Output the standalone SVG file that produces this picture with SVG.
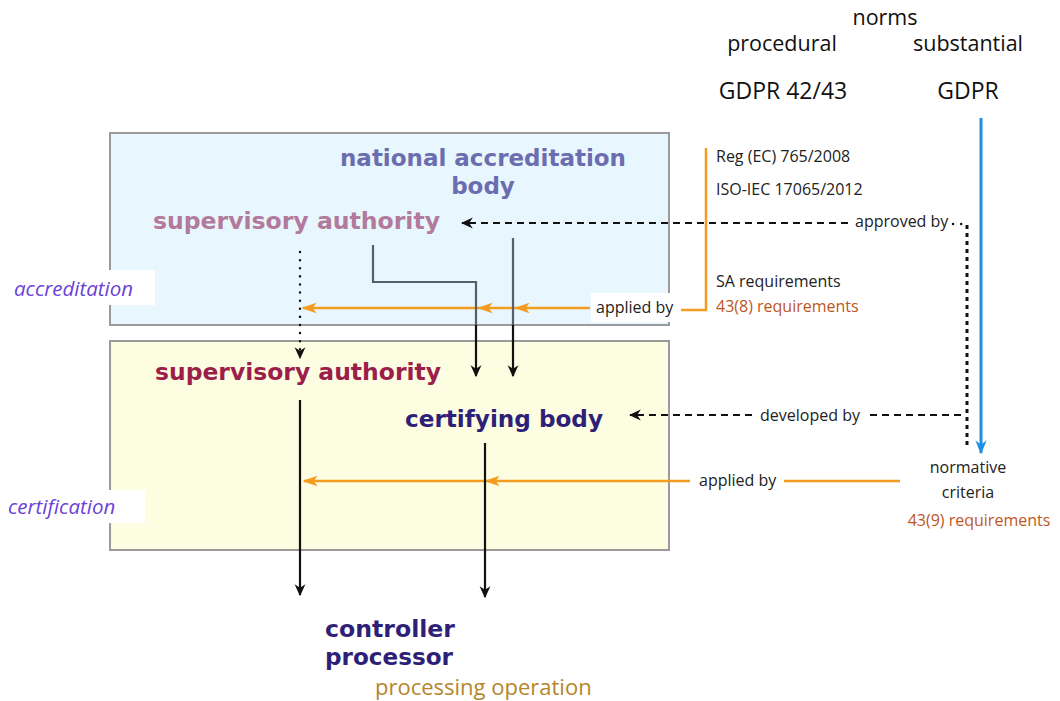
<svg xmlns="http://www.w3.org/2000/svg" width="1060" height="701" viewBox="0 0 1060 701">
<defs>
<style>
text{font-family:"Open Sans","Lato","DejaVu Sans",sans-serif;}
.b{font-family:"DejaVu Sans","Open Sans",sans-serif;font-weight:bold;font-size:23px;}
.sm{font-size:16px;fill:#222;}
.md{font-size:21.5px;fill:#111;}
.lg{font-size:23px;fill:#111;}
.req{font-size:16px;fill:#c0561e;}
.it{font-style:italic;font-size:20.5px;fill:#6a42d6;}
.blk{stroke:#111;stroke-width:2.2;fill:none;}
.gry{stroke:#56606a;stroke-width:2.2;fill:none;}
.org{stroke:#f39c1f;stroke-width:2.5;fill:none;}
.dash{stroke:#111;stroke-width:2.2;stroke-dasharray:7 5;fill:none;}
.dot{stroke:#111;stroke-width:2.4;stroke-linecap:round;stroke-dasharray:0.1 8;fill:none;}
.sq{stroke:#111;stroke-width:3;stroke-dasharray:4 4;fill:none;}
</style>
<marker id="abk" viewBox="0 0 10 10" refX="9" refY="5" markerWidth="12" markerHeight="12" orient="auto" markerUnits="userSpaceOnUse"><path d="M0,0.5 L10,5 L0,9.5 L3,5 z" fill="#111"/></marker>
<marker id="ao" viewBox="0 0 10 10" refX="9" refY="5" markerWidth="15" markerHeight="15" orient="auto" markerUnits="userSpaceOnUse"><path d="M0,1.5 L10,5 L0,8.5 L2.5,5 z" fill="#f39c1f"/></marker>
<marker id="abl" viewBox="0 0 10 10" refX="9" refY="5" markerWidth="14" markerHeight="14" orient="auto" markerUnits="userSpaceOnUse"><path d="M0,1 L10,5 L0,9 L3,5 z" fill="#1e90e8"/></marker>
</defs>
<rect width="1060" height="701" fill="#fff"/>

<g id="accreditation-box">
<rect x="110" y="133" width="559" height="192" fill="#e8f6fd" stroke="#9a9a9a" stroke-width="2"/>
</g>
<g id="certification-box">
<rect x="110" y="341" width="559" height="209" fill="#fdfde2" stroke="#9a9a9a" stroke-width="2"/>
</g>

<g id="connectors">
<line class="dash" x1="848" y1="223" x2="462" y2="223" marker-end="url(#abk)"/>
<path class="dot" d="M953,224 L965,224"/>
<line class="sq" x1="967" y1="225" x2="967" y2="449"/>
<line class="dash" x1="752" y1="415" x2="630" y2="415" marker-end="url(#abk)"/>
<line class="dash" x1="870" y1="415" x2="965" y2="415"/>
<line x1="981" y1="118" x2="981" y2="453" stroke="#1e90e8" stroke-width="3" marker-end="url(#abl)"/>
<path class="org" d="M706,148 L706,310 L681,310"/>
<line class="org" x1="590" y1="308" x2="516" y2="308" marker-end="url(#ao)"/>
<line class="org" x1="516" y1="308" x2="479" y2="308" marker-end="url(#ao)"/>
<line class="org" x1="479" y1="308" x2="303" y2="308" marker-end="url(#ao)"/>
<line class="dot" x1="300" y1="252" x2="300" y2="350"/>
<line x1="300" y1="346" x2="300" y2="358" stroke="#111" stroke-width="0.1" marker-end="url(#abk)"/>
<path class="gry" d="M373,245 L373,282 L476,282 L476,325"/>
<line class="blk" x1="476" y1="325" x2="476" y2="376" marker-end="url(#abk)"/>
<line class="gry" x1="513" y1="238" x2="513" y2="325"/>
<line class="blk" x1="513" y1="325" x2="513" y2="376" marker-end="url(#abk)"/>
<line class="org" x1="900" y1="481" x2="784" y2="481"/>
<line class="org" x1="690" y1="481" x2="486" y2="481" marker-end="url(#ao)"/>
<line class="org" x1="486" y1="481" x2="304" y2="481" marker-end="url(#ao)"/>
<line class="blk" x1="300" y1="400" x2="300" y2="595" marker-end="url(#abk)"/>
<line class="blk" x1="485" y1="443" x2="485" y2="597" marker-end="url(#abk)"/>
</g>

<g id="label-accreditation">
<rect x="8" y="270" width="147" height="35" fill="#fff"/>
<text class="it" x="14" y="296">accreditation</text>
</g>
<g id="label-certification">
<rect x="0" y="490" width="145" height="33" fill="#fff"/>
<text class="it" x="8" y="514">certification</text>
</g>

<g id="norms">
<text class="md" x="885" y="25" text-anchor="middle">norms</text>
<text class="md" x="782" y="51" text-anchor="middle">procedural</text>
<text class="md" x="968" y="51" text-anchor="middle">substantial</text>
</g>
<g id="gdpr4243"><text class="lg" x="783" y="99" text-anchor="middle">GDPR 42/43</text></g>
<g id="gdpr"><text class="lg" x="968" y="99" text-anchor="middle">GDPR</text></g>

<g id="procedural-norms">
<text class="sm" x="716" y="162">Reg (EC) 765/2008</text>
<text class="sm" x="716" y="195">ISO-IEC 17065/2012</text>
<text class="sm" x="716" y="287">SA requirements</text>
<text class="req" x="716" y="312">43(8) requirements</text>
</g>

<g id="national-accreditation-body">
<text class="b" x="483" y="166" text-anchor="middle" fill="#6b6db0">national accreditation</text>
<text class="b" x="483" y="194" text-anchor="middle" fill="#6b6db0">body</text>
</g>
<g id="sa-top">
<text class="b" x="153" y="229" fill="#b27a9b" textLength="287" lengthAdjust="spacingAndGlyphs">supervisory authority</text>
</g>
<g id="sa-bottom">
<text class="b" x="155" y="380" fill="#9c1f4b" textLength="286" lengthAdjust="spacingAndGlyphs">supervisory authority</text>
</g>
<g id="certifying-body">
<text class="b" x="405" y="427" fill="#2e1f78" textLength="198" lengthAdjust="spacingAndGlyphs">certifying body</text>
</g>
<g id="controller-processor">
<text class="b" x="325" y="637" fill="#2e1f78" textLength="130" lengthAdjust="spacingAndGlyphs">controller</text>
<text class="b" x="325" y="665" fill="#2e1f78" textLength="128" lengthAdjust="spacingAndGlyphs">processor</text>
<text x="375" y="695" font-size="22" fill="#b5862a">processing operation</text>
</g>
<g id="normative-criteria">
<text class="sm" x="968" y="473" text-anchor="middle">normative</text>
<text class="sm" x="968" y="498" text-anchor="middle">criteria</text>
<text class="req" x="979" y="526" text-anchor="middle">43(9) requirements</text>
</g>

<g id="edge-labels">
<rect x="591" y="293" width="89" height="29" fill="#fff"/>
<text class="sm" x="596" y="313">applied by</text>
<rect x="850" y="211" width="100" height="22" fill="#fff"/>
<text class="sm" x="855" y="227">approved by</text>
<text class="sm" x="760" y="421">developed by</text>
<text class="sm" x="699" y="486">applied by</text>
</g>
</svg>
